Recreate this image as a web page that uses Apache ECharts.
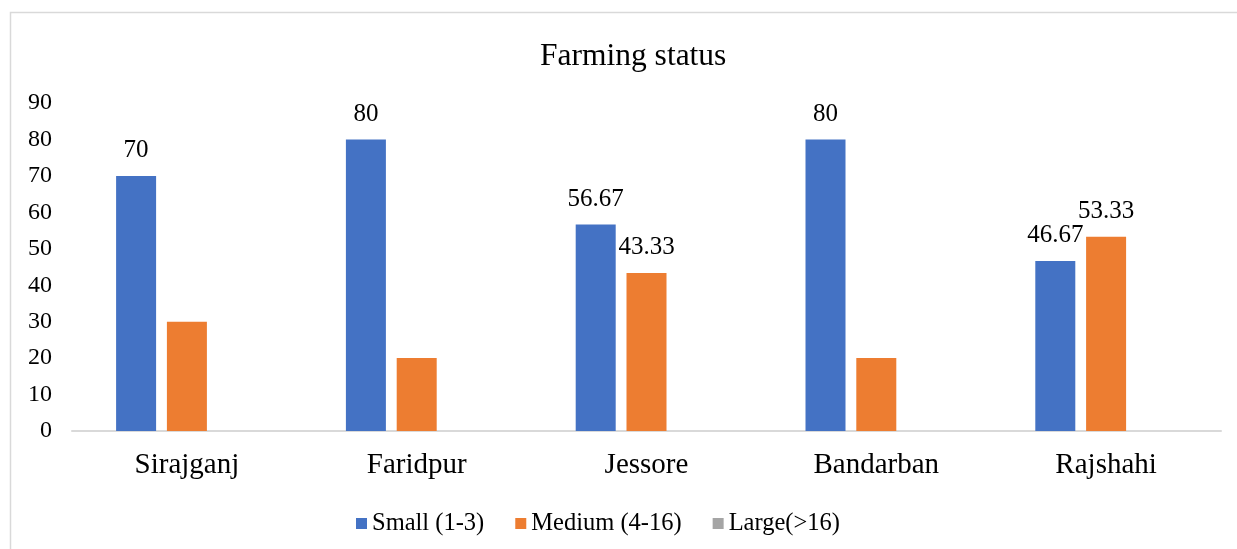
<!DOCTYPE html>
<html>
<head>
<meta charset="utf-8">
<script src="https://cdn.jsdelivr.net/npm/echarts@6/dist/echarts.min.js"></script>
<style>
html,body{margin:0;padding:0;background:#fff;}
#chart{width:1237px;height:549px;}
</style>
</head>
<body>
<div id="chart"></div>
<script>
var categories = ['Sirajganj', 'Faridpur', 'Jessore', 'Bandarban', 'Rajshahi'];
var smallValues = [70, 80, 56.67, 80, 46.67];
var mediumValues = [30, 20, 43.33, 20, 53.33];
var largeValues = [0, 0, 0, 0, 0];
var seriesNames = ['Small (1-3)', 'Medium (4-16)', 'Large(>16)'];
var yTicks = [0, 10, 20, 30, 40, 50, 60, 70, 80, 90];
var labelledSmall = [true, true, true, true, true];
var labelledMedium = [false, false, true, false, true];

var FONT = '"Liberation Serif", "Times New Roman", serif';
var chart = echarts.init(document.getElementById('chart'));

function withLabels(values, flags) {
  return values.map(function (v, i) {
    return { value: v, label: { show: flags[i] } };
  });
}

var labelStyle = {
  position: 'top',
  distance: 13,
  fontFamily: FONT,
  fontSize: 25,
  color: '#000'
};

chart.setOption({
  animation: false,
  color: ['#4472C4', '#ED7D31', '#A5A5A5'],
  graphic: [{
    type: 'rect',
    shape: { x: 10.5, y: 12.5, width: 1400, height: 700 },
    style: { fill: 'none', stroke: '#D9D9D9', lineWidth: 1.5 },
    silent: true
  }],
  title: {
    text: 'Farming status',
    left: 535,
    top: 36,
    textStyle: { fontFamily: FONT, fontSize: 31.5, fontWeight: 'normal', color: '#000' }
  },
  legend: {
    left: 351,
    top: 506,
    itemWidth: 11,
    itemHeight: 11,
    itemGap: 31,
    icon: 'rect',
    textStyle: { fontFamily: FONT, fontSize: 24.5, color: '#000' },
    data: seriesNames
  },
  grid: { left: 72, right: 16, top: 103, bottom: 118, containLabel: false },
  xAxis: {
    type: 'category',
    data: categories,
    axisLine: { lineStyle: { color: '#D9D9D9', width: 2 } },
    axisTick: { show: false },
    axisLabel: { fontFamily: FONT, fontSize: 29, color: '#000', margin: 20 }
  },
  yAxis: {
    type: 'value',
    min: yTicks[0],
    max: yTicks[yTicks.length - 1],
    interval: 10,
    splitLine: { show: false },
    axisLine: { show: false },
    axisTick: { show: false },
    axisLabel: { fontFamily: FONT, fontSize: 24, color: '#000', margin: 20 }
  },
  series: [
    {
      name: seriesNames[0], type: 'bar', barWidth: 40, barGap: '27%',
      data: withLabels(smallValues, labelledSmall), label: labelStyle
    },
    {
      name: seriesNames[1], type: 'bar', barWidth: 40, barGap: '27%',
      data: withLabels(mediumValues, labelledMedium), label: labelStyle
    },
    {
      name: seriesNames[2], type: 'bar', barWidth: 40, barGap: '27%',
      data: largeValues, label: { show: false }
    }
  ]
});
</script>
</body>
</html>
